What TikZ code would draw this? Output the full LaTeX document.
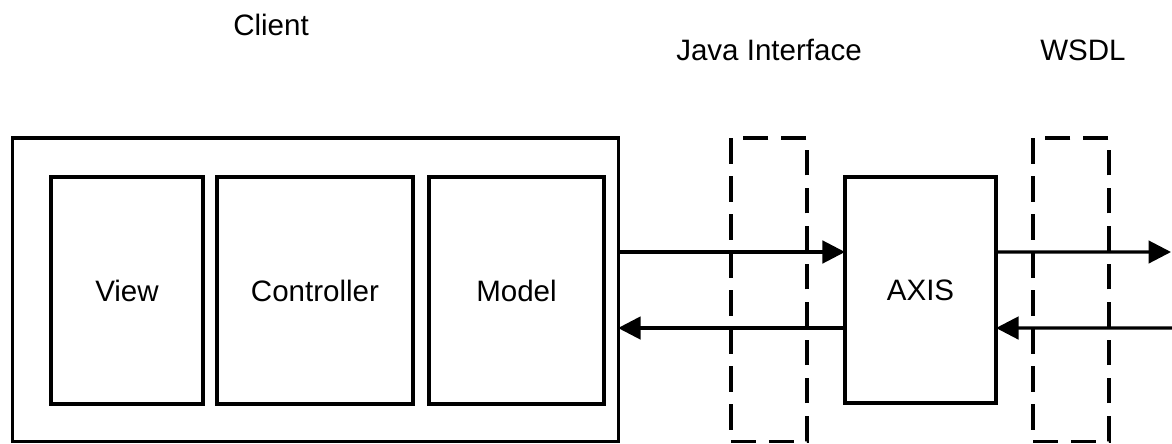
\documentclass[tikz,border=0pt]{standalone}
\usepackage{fontspec}
\setmainfont{Liberation Sans}
\usetikzlibrary{arrows.meta,positioning}

\tikzset{
    box/.style={draw, line width=2.2pt, inner sep=0pt, outer sep=0pt, font=\fontsize{21}{25}\selectfont},
    dashbox/.style={draw, line width=2.2pt, inner sep=0pt, outer sep=0pt, dash pattern=on 18pt off 9pt,
        minimum width=1.9cm, minimum height=7.575cm},
    lbl/.style={anchor=base, font=\fontsize{21}{25}\selectfont},
    flow/.style={line width=2.2pt, -{Triangle[length=16pt, width=16pt]}},
}

\begin{document}
\begin{tikzpicture}[x=0.025cm, y=-0.025cm]
    \useasboundingbox (0,0) rectangle (1172,443);

    % client side
    \node [box, minimum width=15.125cm, minimum height=7.575cm] (client) at (315.5,289.5) {};
    \node [box, minimum width=3.8cm, minimum height=5.675cm] (view) at (127,290.5) {View};
    \node [box, minimum width=4.9cm, minimum height=5.675cm] (controller) at (315,290.5) {Controller};
    \node [box, minimum width=4.375cm, minimum height=5.675cm] (model) at (516.5,290.5) {Model};

    % interfaces
    \node [dashbox] (jif) at (769,289.5) {};
    \node [dashbox] (wsdl) at (1071,289.5) {};
    \node [box, minimum width=3.775cm, minimum height=5.65cm] (axis) at (920.5,290) {AXIS};

    \coordinate (outup) at (1171,252);
    \coordinate (outdown) at (1172,328);

    % labels
    \node [lbl] (clientlbl) at (271,35) {Client};
    \node [lbl] (jiflbl) at (769,60) {Java Interface};
    \node [lbl] (wsdllbl) at (1083,60) {WSDL};

    % connectors
    \draw [flow] ([yshift=0.95cm]axis.west -| client.east) -- ([yshift=0.95cm]axis.west);
    \draw [flow] ([yshift=-0.95cm]axis.west) -- ([yshift=-0.95cm]axis.west -| client.east);
    \draw [flow] ([yshift=0.95cm]axis.east) -- (outup);
    \draw [flow] (outdown) -- ([yshift=-0.95cm]axis.east);
\end{tikzpicture}
\end{document}
